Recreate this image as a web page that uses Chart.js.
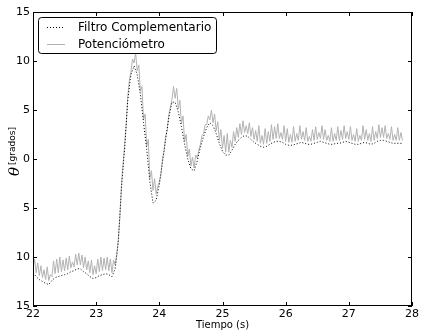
<!DOCTYPE html>
<html>
<head>
<meta charset="utf-8">
<script src="https://cdn.jsdelivr.net/npm/chart.js@4.4.1/dist/chart.umd.min.js"></script>
<style>
html, body { margin: 0; padding: 0; background: #fff; }
#wrap { width: 421px; height: 332px; }
</style>
</head>
<body>
<div id="wrap"><canvas id="grafico"></canvas></div>
<script>
// senal del filtro complementario, muestreada cada 0.05 s desde 22 s
var t0Filtro = 22.0;
var dtFiltro = 0.05;
var filtro = [
    -11.6, -12.0, -12.3, -12.5, -12.7, -12.8, -12.4, -12.1, -12.0, -11.9,
    -11.8, -11.7, -11.5, -11.4, -11.2, -11.2, -11.5, -11.7, -12.0, -12.2,
    -12.1, -11.9, -11.8, -11.7, -11.8, -12.0, -11.2, -8.5, -3.0, 1.0,
    6.0, 8.6, 9.5, 8.6, 6.6, 3.7, 1.0, -2.3, -4.5, -4.2,
    -2.6, -0.3, 2.0, 4.2, 5.8, 5.8, 4.8, 3.3, 1.5, 0.0,
    -1.0, -1.2, -0.2, 1.2, 2.3, 3.2, 3.7, 3.4, 2.6, 1.6,
    0.8, 0.4, 0.4, 0.9, 1.5, 1.9, 2.2, 2.4, 2.3, 2.0,
    1.7, 1.5, 1.3, 1.2, 1.3, 1.5, 1.7, 1.8, 1.8, 1.7,
    1.5, 1.4, 1.4, 1.5, 1.6, 1.7, 1.6, 1.5, 1.5, 1.6,
    1.7, 1.8, 1.7, 1.6, 1.5, 1.5, 1.6, 1.6, 1.7, 1.8,
    1.7, 1.6, 1.5, 1.5, 1.6, 1.7, 1.6, 1.5, 1.6, 1.8,
    1.9, 1.9, 1.8, 1.7, 1.6, 1.6, 1.6, 1.6
];

// senal del potenciometro, cada 0.025 s desde 22 s
var t0Pot = 22.0;
var dtPot = 0.025;
var potenciometro = [
    -11.2, -10.2, -11.6, -10.6, -11.9, -10.9, -12.1, -11.3, -12.3, -11.0, -12.4, -11.8, -12.0, -10.4, -11.7, -10.2, -11.6, -10.0, -11.5, -10.3,
    -11.4, -10.1, -11.3, -9.9, -11.1, -10.5, -11.0, -9.7, -10.8, -9.6, -10.8, -9.8, -11.1, -10.0, -11.3, -10.4, -11.6, -10.3, -11.8, -10.9,
    -11.7, -10.2, -11.5, -10.0, -11.4, -10.1, -11.3, -10.0, -11.4, -10.2, -11.6, -10.3, -10.8, -9.8, -8.2, -6.0, -2.7, -0.5, 1.3, 3.5,
    6.3, 8.0, 8.9, 10.2, 9.8, 10.8, 9.0, 9.6, 6.9, 7.4, 4.0, 4.6, 1.3, 2.0, -2.0, -1.2, -3.2, -2.0, -3.6, -2.8,
    -2.3, -1.6, 0.0, 0.8, 2.3, 3.0, 4.5, 5.3, 6.1, 7.4, 6.2, 7.2, 5.1, 6.0, 3.6, 4.4, 1.8, 2.5, 0.3, 1.0,
    -0.7, 0.2, -0.9, 0.4, 0.1, 0.9, 1.5, 2.4, 2.6, 3.5, 3.5, 4.4, 4.0, 5.0, 3.7, 4.6, 2.9, 3.8, 1.9, 3.0,
    1.1, 2.4, 0.7, 2.6, 0.7, 1.9, 1.2, 2.8, 1.8, 3.2, 2.2, 3.6, 2.5, 3.9, 2.7, 3.4, 2.6, 3.7, 2.3, 3.2,
    2.0, 2.9, 1.8, 3.4, 1.6, 2.4, 1.5, 3.1, 1.6, 2.8, 1.8, 3.5, 2.0, 3.3, 2.1, 3.6, 2.1, 2.7, 2.0, 3.4,
    1.8, 3.1, 1.7, 2.5, 1.7, 3.3, 1.8, 2.6, 1.9, 3.4, 2.0, 2.8, 1.9, 3.2, 1.8, 2.3, 1.8, 3.0, 1.9, 3.3,
    2.0, 2.7, 2.1, 3.4, 2.0, 3.0, 1.9, 2.4, 1.8, 3.2, 1.8, 2.6, 1.9, 3.3, 1.9, 2.9, 2.0, 3.4, 2.1, 2.8,
    2.0, 3.3, 1.9, 2.5, 1.8, 3.1, 1.8, 2.4, 1.9, 3.4, 2.0, 3.0, 1.9, 2.6, 1.8, 3.3, 1.9, 2.8, 2.1, 3.5,
    2.2, 3.2, 2.2, 3.4, 2.1, 2.6, 2.0, 3.3, 1.9, 2.5, 1.9, 3.2, 1.9, 2.7, 1.9
];

var xTicks = [22, 23, 24, 25, 26, 27, 28];
var yTicks = [-15, -10, -5, 0, 5, 10, 15];
var yTickLabels = ['15', '10', '5', '0', '5', '10', '15'];

function puntos(t0, dt, valores) {
    return valores.map(function(v, i) {
        return { x: +(t0 + i * dt).toFixed(3), y: v };
    });
}

var marco = {
    id: 'marco',
    afterDraw: function(chart) {
        var ctx = chart.ctx;
        var a = chart.chartArea;
        var sx = chart.scales.x, sy = chart.scales.y;
        ctx.save();
        ctx.strokeStyle = '#000';
        ctx.lineWidth = 1;
        ctx.strokeRect(a.left + 0.5, a.top + 0.5, a.right - a.left - 1, a.bottom - a.top - 1);

        // ticks hacia dentro en los cuatro lados
        ctx.beginPath();
        xTicks.forEach(function(v) {
            var px = Math.round(sx.getPixelForValue(v)) + 0.5;
            ctx.moveTo(px, a.bottom); ctx.lineTo(px, a.bottom - 4);
            ctx.moveTo(px, a.top); ctx.lineTo(px, a.top + 4);
        });
        yTicks.forEach(function(v) {
            var py = Math.round(sy.getPixelForValue(v)) + 0.5;
            ctx.moveTo(a.left, py); ctx.lineTo(a.left + 4, py);
            ctx.moveTo(a.right, py); ctx.lineTo(a.right - 4, py);
        });
        ctx.stroke();

        // titulo del eje y
        ctx.save();
        ctx.translate(15, 170);
        ctx.rotate(-Math.PI / 2);
        ctx.fillStyle = '#000';
        ctx.textBaseline = 'middle';
        ctx.textAlign = 'left';
        ctx.font = 'italic 15px "DejaVu Serif"';
        ctx.fillText('\u03b8', -6, 0);
        var w = ctx.measureText('\u03b8').width;
        ctx.font = '9px "DejaVu Sans"';
        ctx.fillText('[grados]', -6 + w + 2, -2);
        ctx.restore();

        // leyenda
        var bx = a.left + 5, by = a.top + 5, bw = 178, bh = 36;
        ctx.fillStyle = '#fff';
        ctx.strokeStyle = '#000';
        ctx.lineWidth = 1;
        ctx.beginPath();
        ctx.roundRect(bx + 0.5, by + 0.5, bw, bh, 3);
        ctx.fill();
        ctx.stroke();
        ctx.font = '12px "DejaVu Sans"';
        ctx.textBaseline = 'middle';
        ctx.textAlign = 'left';
        chart.data.datasets.forEach(function(ds, i) {
            var ly = by + 10.5 + i * 17;
            ctx.save();
            ctx.strokeStyle = ds.borderColor;
            ctx.lineWidth = ds.borderWidth;
            ctx.setLineDash(ds.borderDash || []);
            ctx.beginPath();
            ctx.moveTo(bx + 9, ly);
            ctx.lineTo(bx + 27, ly);
            ctx.stroke();
            ctx.restore();
            ctx.fillStyle = '#000';
            ctx.fillText(ds.label, bx + 40, ly);
        });
        ctx.restore();
    }
};

new Chart(document.getElementById('grafico'), {
    type: 'line',
    data: {
        datasets: [{
            label: 'Filtro Complementario',
            data: puntos(t0Filtro, dtFiltro, filtro),
            borderColor: '#000',
            borderWidth: 1,
            borderDash: [1, 2],
            pointRadius: 0,
            tension: 0
        }, {
            label: 'Potenciómetro',
            data: puntos(t0Pot, dtPot, potenciometro),
            borderColor: '#b2b2b2',
            borderWidth: 1,
            pointRadius: 0,
            tension: 0
        }]
    },
    options: {
        responsive: true,
        maintainAspectRatio: false,
        animation: false,
        layout: { padding: { left: 0, right: 9, top: 12, bottom: 0 } },
        plugins: {
            legend: { display: false },
            tooltip: { enabled: false }
        },
        scales: {
            x: {
                type: 'linear',
                min: 22,
                max: 28,
                afterFit: function(s) { s.height = 26; },
                afterBuildTicks: function(s) { s.ticks = xTicks.map(function(v) { return { value: v }; }); },
                grid: { display: false, drawTicks: false },
                border: { display: false },
                ticks: {
                    color: '#000',
                    padding: 2,
                    maxRotation: 0,
                    font: { family: 'DejaVu Sans', size: 11 }
                },
                title: {
                    display: true,
                    text: 'Tiempo (s)',
                    color: '#000',
                    padding: { top: 0, bottom: 1 },
                    font: { family: 'DejaVu Sans', size: 10 }
                }
            },
            y: {
                type: 'linear',
                min: -15,
                max: 15,
                afterFit: function(s) { s.width = 33; },
                afterBuildTicks: function(s) { s.ticks = yTicks.map(function(v) { return { value: v }; }); },
                grid: { display: false, drawTicks: false },
                border: { display: false },
                ticks: {
                    color: '#000',
                    padding: 3,
                    font: { family: 'DejaVu Sans', size: 11 },
                    callback: function(v) { return yTickLabels[yTicks.indexOf(v)]; }
                }
            }
        }
    },
    plugins: [marco]
});
</script>
</body>
</html>
